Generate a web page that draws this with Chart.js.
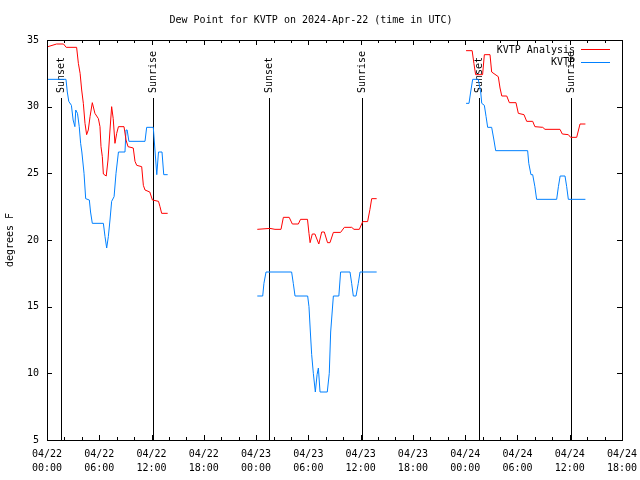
<!DOCTYPE html>
<html>
<head>
<meta charset="utf-8">
<script src="https://cdn.jsdelivr.net/npm/chart.js@4/dist/chart.umd.min.js"></script>
<style>
  html, body { margin: 0; padding: 0; background: #fff; }
  canvas { display: block; }
</style>
</head>
<body>
<canvas id="myChart" width="640" height="480"></canvas>
<script>
// hours since 2024-04-22 00:00 UTC, null value = gap in the line
const analysisHours = [0.1, 1.1, 1.9, 2.2, 3.4, 3.6, 3.8, 3.98, 4.17, 4.36, 4.55, 4.74, 4.94, 5.2, 5.5, 5.9, 6.08, 6.2, 6.35, 6.47, 6.8, 7.0, 7.23, 7.42, 7.6, 7.8, 8.0, 8.2, 8.84, 9.07, 9.3, 9.9, 10.1, 10.3, 10.87, 11.06, 11.25, 11.8, 12.1, 12.8, 12.97, 13.16, 13.85,
  18,
  24.14, 25.6, 26.17, 26.86, 27.13, 27.8, 28.16, 28.85, 29.1, 29.9, 30.07, 30.2, 30.45, 30.75, 31.2, 31.53, 31.83, 32.2, 32.48, 32.87, 33.7, 34.13, 34.97, 35.24, 35.85, 36.24, 36.8, 37.07, 37.27, 37.84,
  43,
  48.1, 48.8, 49.0, 49.2, 50.0, 50.2, 50.85, 51.04, 51.8, 52.0, 52.2, 52.77, 53.07, 53.83, 54.1, 54.75, 55.06, 55.75, 56.0, 56.9, 57.16, 58.88, 59.15, 59.84, 60.1, 60.8, 61.18, 61.8];
const analysisDew = [34.5, 34.7, 34.7, 34.45, 34.45, 33.25, 32.5, 31.25, 30.25, 28.75, 27.9, 28.25, 29.25, 30.3, 29.5, 29.1, 28.5, 27, 26.25, 24.95, 24.8, 26, 28.25, 30, 29.1, 27.25, 28, 28.5, 28.5, 27.5, 27, 26.9, 25.9, 25.6, 25.5, 24.1, 23.75, 23.6, 23, 22.9, 22.5, 22, 22,
  null,
  20.8, 20.87, 20.8, 20.8, 21.7, 21.7, 21.2, 21.2, 21.55, 21.55, 20.5, 19.8, 20.45, 20.45, 19.7, 20.6, 20.6, 19.8, 19.8, 20.57, 20.57, 20.95, 20.95, 20.8, 20.8, 21.38, 21.38, 22.3, 23.1, 23.1,
  null,
  34.2, 34.2, 33.25, 32.4, 32.4, 33.9, 33.9, 32.6, 32.25, 31.4, 30.8, 30.8, 30.3, 30.3, 29.5, 29.4, 28.9, 28.9, 28.5, 28.45, 28.3, 28.3, 27.95, 27.9, 27.7, 27.7, 28.7, 28.7];

const obsHours = [0.1, 2.18, 2.33, 2.5, 2.8, 3.0, 3.2, 3.3, 3.5, 3.7, 3.86, 4.0, 4.25, 4.44, 4.86, 5.0, 5.2, 6.47, 6.66, 6.85, 7.04, 7.23, 7.42, 7.7, 7.92, 8.2, 8.95, 9.07, 9.2, 9.4, 11.25, 11.44, 12.2, 12.6, 12.8, 13.2, 13.4, 13.85,
  18,
  24.14, 24.76, 24.9, 25.14, 28.08, 28.27, 28.47, 29.92, 30.07, 30.23, 30.38, 30.57, 30.8, 31.0, 31.15, 31.34, 32.17, 32.4, 32.56, 32.87, 33.5, 33.7, 34.78, 34.97, 35.16, 35.47, 35.73, 35.93, 37.84,
  43,
  48.1, 48.44, 48.63, 48.86, 49.5, 49.78, 49.9, 50.2, 50.4, 50.58, 51.04, 51.3, 51.5, 55.17, 55.3, 55.55, 55.75, 56.0, 56.2, 58.5, 58.7, 58.9, 59.46, 59.65, 59.84, 61.8];
const obsDew = [32.05, 32.05, 31.1, 30.4, 30.1, 29, 28.5, 29.75, 29.5, 28.5, 27.25, 26.6, 25, 23.1, 23, 22.1, 21.25, 21.25, 20.25, 19.4, 20.25, 21.5, 22.9, 23.25, 25, 26.6, 26.6, 28.25, 28.25, 27.4, 27.4, 28.45, 28.45, 24.9, 26.6, 26.6, 24.9, 24.9,
  null,
  15.8, 15.8, 16.75, 17.6, 17.6, 16.75, 15.8, 15.8, 15.0, 13.1, 11.4, 10.0, 8.6, 9.9, 10.4, 8.6, 8.6, 10, 13.1, 15.8, 15.8, 17.6, 17.6, 16.75, 15.8, 15.8, 16.75, 17.6, 17.6,
  null,
  30.25, 30.25, 31.1, 32.05, 32.05, 31.1, 30.25, 30.1, 29.25, 28.45, 28.45, 27.5, 26.7, 26.7, 25.75, 24.9, 24.9, 24.0, 23.05, 23.05, 24.0, 24.8, 24.8, 24.0, 23.05, 23.05];

const sunHours = [1.6, 12.17, 25.48, 36.16, 49.59, 60.15];
const sunLabels = ['Sunset', 'Sunrise', 'Sunset', 'Sunrise', 'Sunset', 'Sunrise'];

const seriesNames = ['KVTP Analysis', 'KVTP'];
const seriesColors = ['#ff0000', 'rgb(0,128,255)'];

const startDay = 22;
const FONT = "'DejaVu Sans Mono', 'Liberation Mono', monospace";

function toPoints(hours, vals) {
    return hours.map((h, i) => ({ x: h, y: vals[i] }));
}

function tickLabel(h) {
    const day = startDay + Math.floor(h / 24);
    const hh = h % 24;
    return ['04/' + day, String(hh).padStart(2, '0') + ':00'];
}

// frame + inward ticks on all four sides, like gnuplot
const framePlugin = {
    id: 'frame',
    afterDraw(chart) {
        const c = chart.ctx, a = chart.chartArea;
        const xs = chart.scales.x, ys = chart.scales.y;
        c.save();
        c.strokeStyle = '#000';
        c.lineWidth = 1;
        c.beginPath();
        for (let h = xs.min; h <= xs.max; h += 2) {
            const px = Math.round(xs.getPixelForValue(h)) + 0.5;
            const len = (h % 6 === 0) ? 5 : 3;
            c.moveTo(px, a.bottom); c.lineTo(px, a.bottom - len);
            c.moveTo(px, a.top); c.lineTo(px, a.top + len);
        }
        for (let v = ys.min; v <= ys.max; v += 5) {
            const py = Math.round(ys.getPixelForValue(v)) + 0.5;
            c.moveTo(a.left, py); c.lineTo(a.left + 5, py);
            c.moveTo(a.right, py); c.lineTo(a.right - 5, py);
        }
        c.stroke();
        c.strokeRect(Math.round(a.left) + 0.5, Math.round(a.top) + 0.5,
            Math.round(a.right - a.left), Math.round(a.bottom - a.top));

        // legend
        c.font = '10px ' + FONT;
        c.textAlign = 'right';
        c.textBaseline = 'middle';
        seriesNames.forEach((name, i) => {
            const y = a.top + 10 + i * 12.5;
            c.fillStyle = '#000';
            c.fillText(name, a.right - 47, y);
            c.strokeStyle = seriesColors[i];
            c.beginPath();
            c.moveTo(a.right - 41, Math.round(y) - 0.5);
            c.lineTo(a.right - 12, Math.round(y) - 0.5);
            c.stroke();
        });
        c.restore();
    }
};

// sunrise / sunset markers
const sunPlugin = {
    id: 'sun',
    beforeDatasetsDraw(chart) {
        const c = chart.ctx, a = chart.chartArea;
        const xs = chart.scales.x;
        c.save();
        c.strokeStyle = '#000';
        c.fillStyle = '#000';
        c.lineWidth = 1;
        c.font = '10px ' + FONT;
        sunHours.forEach((h, i) => {
            const px = Math.round(xs.getPixelForValue(h)) + 0.5;
            c.beginPath();
            c.moveTo(px, a.top + 58);
            c.lineTo(px, a.bottom);
            c.stroke();
            c.save();
            c.translate(px, a.top + 53);
            c.rotate(-Math.PI / 2);
            c.textAlign = 'left';
            c.textBaseline = 'middle';
            c.fillText(sunLabels[i], 0, 0);
            c.restore();
        });
        c.restore();
    }
};

const ctx = document.getElementById('myChart').getContext('2d');
const myChart = new Chart(ctx, {
    type: 'line',
    data: {
        datasets: [
            {
                label: seriesNames[0],
                data: toPoints(analysisHours, analysisDew),
                borderColor: seriesColors[0],
                borderWidth: 1,
                pointRadius: 0,
                tension: 0,
                spanGaps: false
            },
            {
                label: seriesNames[1],
                data: toPoints(obsHours, obsDew),
                borderColor: seriesColors[1],
                borderWidth: 1,
                pointRadius: 0,
                tension: 0,
                spanGaps: false
            }
        ]
    },
    options: {
        responsive: false,
        animation: false,
        devicePixelRatio: 1,
        layout: { padding: { left: 0, right: 18, top: 0, bottom: 0 } },
        plugins: {
            legend: { display: false },
            tooltip: { enabled: false },
            title: {
                display: true,
                text: 'Dew Point for KVTP on 2024-Apr-22 (time in UTC)',
                color: '#000',
                font: { family: FONT, size: 10, weight: 'normal' },
                padding: { top: 14, bottom: 14 }
            }
        },
        scales: {
            x: {
                type: 'linear',
                min: 0,
                max: 66,
                grid: { display: false },
                border: { display: false },
                ticks: {
                    stepSize: 6,
                    autoSkip: false,
                    maxRotation: 0,
                    padding: -1,
                    color: '#000',
                    font: { family: FONT, size: 10, lineHeight: 1.4 },
                    callback: v => tickLabel(v)
                },
                afterFit(s) {
                    s.height = 40;
                    s.paddingLeft = 0;
                    s.paddingRight = 0;
                }
            },
            y: {
                min: 5,
                max: 35,
                grid: { display: false },
                border: { display: false },
                ticks: {
                    stepSize: 5,
                    padding: 0,
                    color: '#000',
                    font: { family: FONT, size: 10 }
                },
                title: {
                    display: true,
                    text: 'degrees F',
                    color: '#000',
                    font: { family: FONT, size: 10 },
                    padding: { top: 4, bottom: 0 }
                },
                afterFit(s) {
                    s.width = 47;
                    s.paddingTop = 0;
                    s.paddingBottom = 0;
                }
            }
        }
    },
    plugins: [sunPlugin, framePlugin]
});
</script>
</body>
</html>
